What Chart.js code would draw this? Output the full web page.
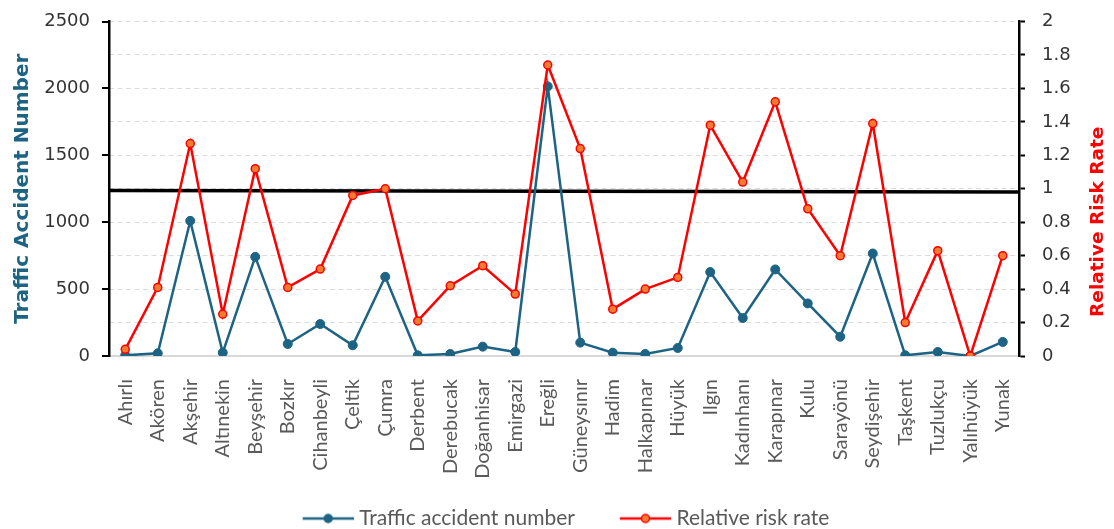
<!DOCTYPE html>
<html>
<head>
<meta charset="utf-8">
<script src="https://cdn.jsdelivr.net/npm/chart.js@4.4.1/dist/chart.umd.min.js"></script>
<style>
  html, body { margin: 0; padding: 0; background: #ffffff; }
  #wrap { width: 1114px; height: 529px; }
</style>
</head>
<body>
<div id="wrap"><canvas id="chart" width="1114" height="529"></canvas></div>
<script>
// District names along the x axis
const districts = [
  'Ahırlı', 'Akören', 'Akşehir', 'Altınekin', 'Beyşehir', 'Bozkır', 'Cihanbeyli',
  'Çeltik', 'Çumra', 'Derbent', 'Derebucak', 'Doğanhisar', 'Emirgazi', 'Ereğli',
  'Güneysınır', 'Hadim', 'Halkapınar', 'Hüyük', 'Ilgın', 'Kadınhanı', 'Karapınar',
  'Kulu', 'Sarayönü', 'Seydişehir', 'Taşkent', 'Tuzlukçu', 'Yalıhüyük', 'Yunak'
];

// Number of traffic accidents per district (left axis)
const accidents = [
  5, 20, 1010, 25, 741, 90, 239,
  80, 592, 5, 15, 70, 30, 2015,
  100, 25, 15, 60, 627, 284, 647,
  393, 144, 766, 5, 30, 0, 105
];

// Relative risk rate per district (right axis)
const riskRates = [
  0.04, 0.41, 1.27, 0.25, 1.12, 0.41, 0.52,
  0.96, 1.00, 0.21, 0.42, 0.54, 0.37, 1.74,
  1.24, 0.28, 0.40, 0.47, 1.38, 1.04, 1.52,
  0.88, 0.60, 1.39, 0.20, 0.63, 0.00, 0.60
];

// Axis ranges and steps
const accidentAxis = { min: 0, max: 2500, step: 500 };
const riskAxis = { min: 0, max: 2, step: 0.2 };

// Risk threshold line (start and end value on the risk axis)
const thresholdLine = [0.99, 0.98];

const BLUE = '#1d6384';
const RED = '#ff0000';
const ORANGE = '#ee7d31';
const PLOT_BOTTOM = 356;
const LAYOUT_BOTTOM = -10;
const LEGEND_BOX = 81;

// Legend symbol: short line with a marker, placed at the right end of the legend box
function legendSymbol(lineColor, fillColor, radius) {
  const c = document.createElement('canvas');
  c.width = LEGEND_BOX + 10; c.height = 14;
  const g = c.getContext('2d');
  const x0 = c.width - 51, x1 = c.width;
  g.strokeStyle = lineColor;
  g.lineWidth = 2.5;
  g.beginPath(); g.moveTo(x0, 7); g.lineTo(x1, 7); g.stroke();
  g.beginPath(); g.arc((x0 + x1) / 2, 7, radius, 0, Math.PI * 2);
  g.fillStyle = fillColor; g.fill();
  g.lineWidth = 1.5; g.strokeStyle = lineColor; g.stroke();
  return c;
}
const legendSymbols = [legendSymbol(BLUE, BLUE, 4), legendSymbol(RED, ORANGE, 4)];

// Threshold line drawn under the series
const thresholdPlugin = {
  id: 'threshold',
  beforeDatasetsDraw(chart) {
    const { ctx, chartArea, scales } = chart;
    ctx.save();
    ctx.strokeStyle = '#000000';
    ctx.lineWidth = 3.5;
    ctx.beginPath();
    ctx.moveTo(chartArea.left, scales.y1.getPixelForValue(thresholdLine[0]));
    ctx.lineTo(chartArea.right, scales.y1.getPixelForValue(thresholdLine[1]));
    ctx.stroke();
    ctx.restore();
  }
};

// Right axis title, reading bottom to top
const rightTitlePlugin = {
  id: 'rightTitle',
  afterDraw(chart) {
    const { ctx, chartArea } = chart;
    ctx.save();
    ctx.translate(chart.width - 16, (chartArea.top + chartArea.bottom) / 2 + 33);
    ctx.rotate(-Math.PI / 2);
    ctx.font = 'bold 18.5px "DejaVu Sans"';
    ctx.fillStyle = RED;
    ctx.textAlign = 'center';
    ctx.textBaseline = 'middle';
    ctx.fillText('Relative Risk Rate', 0, 0);
    ctx.restore();
  }
};

new Chart(document.getElementById('chart'), {
  type: 'line',
  data: {
    labels: districts,
    datasets: [
      {
        label: 'Traffic accident number',
        data: accidents,
        yAxisID: 'y',
        borderColor: BLUE,
        backgroundColor: BLUE,
        borderWidth: 2.5,
        pointRadius: 4.5,
        pointBackgroundColor: BLUE,
        pointBorderColor: BLUE,
        pointBorderWidth: 1,
        tension: 0,
        order: 2
      },
      {
        label: 'Relative risk rate',
        data: riskRates,
        yAxisID: 'y1',
        borderColor: RED,
        backgroundColor: ORANGE,
        borderWidth: 2.5,
        pointRadius: 4,
        pointBackgroundColor: ORANGE,
        pointBorderColor: RED,
        pointBorderWidth: 1.5,
        tension: 0,
        order: 1
      }
    ]
  },
  options: {
    responsive: false,
    animation: false,
    devicePixelRatio: 1,
    layout: { padding: { top: 21, left: 0, right: 17, bottom: LAYOUT_BOTTOM } },
    plugins: {
      tooltip: { enabled: false },
      legend: {
        position: 'bottom',
        labels: {
          usePointStyle: true,
          pointStyleWidth: LEGEND_BOX,
          padding: 10,
          color: '#595959',
          font: { family: 'Lato', size: 21 },
          sort: (a, b) => a.datasetIndex - b.datasetIndex,
          generateLabels(chart) {
            const items = Chart.defaults.plugins.legend.labels.generateLabels(chart);
            items.forEach(it => { it.pointStyle = legendSymbols[it.datasetIndex]; });
            return items;
          }
        }
      }
    },
    scales: {
      x: {
        type: 'category',
        offset: true,
        grid: { display: false },
        border: { display: true, color: '#d9d9d9', width: 2 },
        ticks: {
          minRotation: 90,
          maxRotation: 90,
          autoSkip: false,
          padding: 15,
          color: '#595959',
          font: { family: 'Lato', size: 20 }
        },
        afterFit(scale) {
          const legend = scale.chart.legend;
          const legendHeight = legend ? legend.height : 40;
          scale.height = scale.chart.height - LAYOUT_BOTTOM - legendHeight - PLOT_BOTTOM;
        }
      },
      y: {
        position: 'left',
        min: accidentAxis.min,
        max: accidentAxis.max,
        ticks: {
          stepSize: accidentAxis.step,
          padding: 12,
          color: '#333333',
          font: { family: '"DejaVu Sans"', size: 18, lineHeight: 0.5 },
          callback: v => String(v)
        },
        grid: { drawOnChartArea: false, tickLength: 7, color: '#000000', lineWidth: 2 },
        border: { display: true, color: '#000000', width: 2.5 },
        title: {
          display: true,
          text: 'Traffic Accident Number',
          color: BLUE,
          padding: { top: 11, bottom: 0 },
          font: { family: '"DejaVu Sans"', size: 20, weight: 'bold' }
        },
        afterFit(scale) { scale.width = 109; }
      },
      y1: {
        position: 'right',
        min: riskAxis.min,
        max: riskAxis.max,
        ticks: {
          stepSize: riskAxis.step,
          padding: 17,
          color: '#333333',
          font: { family: '"DejaVu Sans"', size: 18, lineHeight: 0.5 },
          callback: v => String(Number(v.toFixed(1)))
        },
        grid: {
          drawOnChartArea: true,
          color: '#dcdcdc',
          lineWidth: 1,
          tickLength: 6,
          tickColor: '#000000',
          tickWidth: 2,
          tickBorderDash: []
        },
        border: { display: true, color: '#000000', width: 2.5, dash: [5, 3.5] },
        afterFit(scale) { scale.width = 78; }
      }
    }
  },
  plugins: [thresholdPlugin, rightTitlePlugin]
});
</script>
</body>
</html>
